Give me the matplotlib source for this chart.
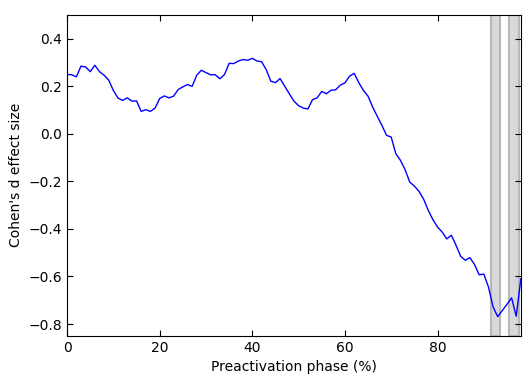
import numpy as np
import matplotlib
matplotlib.use("Agg")
import matplotlib.pyplot as plt

# Cohen's d per percent of the preactivation phase
phase = np.arange(0, 99)
cohens_d = [
    0.249, 0.248, 0.239, 0.284, 0.281, 0.261, 0.288, 0.261, 0.246, 0.225,
    0.182, 0.150, 0.140, 0.151, 0.137, 0.138, 0.094, 0.101, 0.094, 0.108,
    0.148, 0.159, 0.151, 0.158, 0.186, 0.197, 0.207, 0.199, 0.246, 0.267,
    0.257, 0.248, 0.248, 0.231, 0.249, 0.296, 0.295, 0.306, 0.312, 0.309,
    0.317, 0.306, 0.303, 0.270, 0.221, 0.215, 0.232, 0.200, 0.168, 0.137,
    0.118, 0.108, 0.104, 0.143, 0.151, 0.178, 0.168, 0.183, 0.185, 0.204,
    0.214, 0.242, 0.254, 0.215, 0.182, 0.158, 0.112, 0.073, 0.035, -0.007,
    -0.014, -0.084, -0.112, -0.151, -0.203, -0.220, -0.242, -0.275, -0.322, -0.361,
    -0.392, -0.413, -0.442, -0.427, -0.469, -0.515, -0.532, -0.521, -0.550, -0.593,
    -0.590, -0.644, -0.728, -0.769, -0.743, -0.717, -0.690, -0.767, -0.610,
]
# significant stretches (start, end) in %
sig_spans = [(91.6, 93.6), (95.5, 97.5)]

fig = plt.figure(figsize=(5.24, 3.8), dpi=100)
ax = fig.add_axes([0.128, 0.116, 0.866, 0.845])

for start, end in sig_spans:
    ax.axvspan(start, end, facecolor="0.85", edgecolor="0.72", lw=1.5, zorder=1)

ax.plot(phase, cohens_d, color="b", lw=1.0, zorder=2)

ax.set_xlim(0, 98)
ax.set_ylim(-0.85, 0.5)
ax.set_xticks([0, 20, 40, 60, 80])
ax.set_yticks([-0.8, -0.6, -0.4, -0.2, 0.0, 0.2, 0.4])
ax.tick_params(direction="in", top=True, right=True, length=4, labelsize=10)
ax.set_xlabel("Preactivation phase (%)", fontsize=10)
ax.set_ylabel("Cohen's d effect size", fontsize=10)

fig.savefig("out.png", dpi=100)
